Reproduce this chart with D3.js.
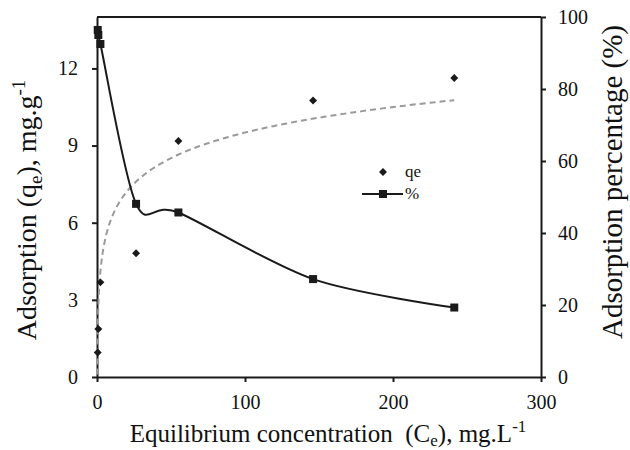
<!DOCTYPE html>
<html>
<head>
<meta charset="utf-8">
<script src="https://cdn.jsdelivr.net/npm/d3@7"></script>
<style>
  html, body { margin: 0; padding: 0; background: #fff; }
  svg { display: block; }
</style>
</head>
<body>
<svg id="chart" width="630" height="450"></svg>
<script>
// Equilibrium concentration Ce (mg/L) for each run
const concentration = [0.5, 0.9, 2.3, 26.4, 55, 146, 241.4];
// Adsorption capacity qe (mg/g)
const qeValues = [0.95, 1.87, 3.68, 4.81, 9.18, 10.75, 11.63];
// Removal percentage (%)
const percentValues = [96.4, 95.0, 92.5, 48.1, 45.7, 27.2, 19.3];

// Logarithmic trendline of qe: qe = a * ln(Ce) + b, drawn over this Ce range
const trendCoef = [1.432, 2.91];
const trendRange = [0.14, 241.4];

const xTicks = [0, 100, 200, 300];
const leftTicks = [0, 3, 6, 9, 12];
const rightTicks = [0, 20, 40, 60, 80, 100];

const FONT = "'Liberation Serif', Tinos, 'Times New Roman', 'DejaVu Serif', serif";
const svg = d3.select("#chart").attr("font-family", FONT);
const m = { left: 97, right: 541, top: 17, bottom: 377 };

const x = d3.scaleLinear().domain([0, 300]).range([m.left, m.right]);
const yL = d3.scaleLinear().domain([0, 14]).range([m.bottom, m.top]);
const yR = d3.scaleLinear().domain([0, 100]).range([m.bottom, m.top]);

const ink = "#1a1a1a";

// Frame top line
svg.append("line")
  .attr("x1", m.left).attr("x2", m.right)
  .attr("y1", m.top).attr("y2", m.top)
  .attr("stroke", ink).attr("stroke-width", 2);

function styleAxis(g) {
  g.attr("font-family", FONT).attr("font-size", 20);
  g.select(".domain").attr("stroke", ink).attr("stroke-width", 2);
  g.selectAll(".tick line").attr("stroke", ink).attr("stroke-width", 2);
  g.selectAll(".tick text").attr("fill", "#111");
}

// Bottom axis
svg.append("g")
  .attr("transform", `translate(0,${m.bottom})`)
  .call(d3.axisBottom(x).tickValues(xTicks).tickSize(5).tickSizeOuter(0).tickPadding(13))
  .call(styleAxis);

// Left axis
svg.append("g")
  .attr("transform", `translate(${m.left},0)`)
  .call(d3.axisLeft(yL).tickValues(leftTicks).tickSize(5).tickSizeOuter(0).tickPadding(14))
  .call(styleAxis);

// Right axis
svg.append("g")
  .attr("transform", `translate(${m.right},0)`)
  .call(d3.axisRight(yR).tickValues(rightTicks).tickSize(5).tickSizeOuter(0).tickPadding(12))
  .call(styleAxis);

// Axis titles
const title = svg.append("g").attr("fill", "#111").attr("font-family", FONT);

const xt = title.append("text")
  .attr("x", 328).attr("y", 442)
  .attr("font-size", 25)
  .attr("text-anchor", "middle");
xt.append("tspan").text("Equilibrium concentration\u00a0\u00a0(C");
xt.append("tspan").attr("dy", 4).attr("font-size", 17).text("e");
xt.append("tspan").attr("dy", -4).text("), mg.L");
xt.append("tspan").attr("dy", -10).attr("font-size", 17).text("-1");

const lt = title.append("text")
  .attr("transform", `translate(36,210) rotate(-90)`)
  .attr("font-size", 28)
  .attr("text-anchor", "middle");
lt.append("tspan").text("Adsorption (q");
lt.append("tspan").attr("dy", 6).attr("font-size", 19).text("e");
lt.append("tspan").attr("dy", -6).text("), mg.g");
lt.append("tspan").attr("dy", -11).attr("font-size", 19).text("-1");

title.append("text")
  .attr("transform", `translate(622,182) rotate(-90)`)
  .attr("font-size", 29)
  .attr("text-anchor", "middle")
  .text("Adsorption percentage (%)");

// Logarithmic trendline for qe
const trendPts = d3.range(0, 201).map(i => {
  const ce = Math.exp(Math.log(trendRange[0]) + (Math.log(trendRange[1]) - Math.log(trendRange[0])) * i / 200);
  return [ce, trendCoef[0] * Math.log(ce) + trendCoef[1]];
}).filter(d => d[1] >= 0);

svg.append("path")
  .datum(trendPts)
  .attr("fill", "none")
  .attr("stroke", "#9a9a9a")
  .attr("stroke-width", 2)
  .attr("stroke-dasharray", "6,4")
  .attr("d", d3.line().x(d => x(d[0])).y(d => yL(d[1])));

// Removal percentage, smoothed line
const pctData = concentration.map((c, i) => [c, percentValues[i]]);
svg.append("path")
  .datum(pctData)
  .attr("fill", "none")
  .attr("stroke", ink)
  .attr("stroke-width", 2)
  .attr("d", d3.line().curve(d3.curveCardinal.tension(0.1)).x(d => x(d[0])).y(d => yR(d[1])));

const sq = 8;
svg.append("g").selectAll("rect")
  .data(pctData)
  .join("rect")
  .attr("x", d => x(d[0]) - sq / 2)
  .attr("y", d => yR(d[1]) - sq / 2)
  .attr("width", sq).attr("height", sq)
  .attr("fill", ink);

// qe markers (diamonds)
const diamond = d3.symbol().type(d3.symbolDiamond2).size(40);
svg.append("g").selectAll("path")
  .data(concentration.map((c, i) => [c, qeValues[i]]))
  .join("path")
  .attr("transform", d => `translate(${x(d[0])},${yL(d[1])})`)
  .attr("d", diamond)
  .attr("fill", ink);

// Legend
const lg = svg.append("g").attr("font-family", FONT).attr("font-size", 17).attr("fill", "#111");
lg.append("path").attr("transform", "translate(383,172)").attr("d", diamond).attr("fill", ink);
lg.append("text").attr("x", 405).attr("y", 177).text("qe");
lg.append("line").attr("x1", 362).attr("x2", 403).attr("y1", 194).attr("y2", 194)
  .attr("stroke", ink).attr("stroke-width", 2);
lg.append("rect").attr("x", 383 - sq / 2).attr("y", 194 - sq / 2).attr("width", sq).attr("height", sq).attr("fill", ink);
lg.append("text").attr("x", 405).attr("y", 199).text("%");
</script>
</body>
</html>
